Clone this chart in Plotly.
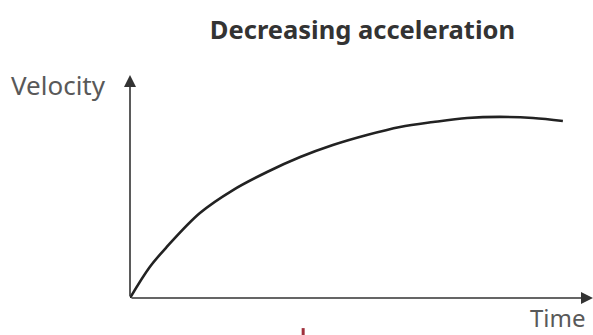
import plotly.graph_objects as go

# Curve (time, velocity in arbitrary units 0-10)
time = [0, 0.43, 0.80, 1.52, 2.24, 2.98, 3.70, 4.41, 5.15, 5.87, 6.59, 7.33, 8.04, 8.76, 9.41]
velocity = [0, 1.39, 2.29, 3.81, 4.84, 5.65, 6.32, 6.86, 7.31, 7.67, 7.89, 8.07, 8.12, 8.07, 7.94]

title_text = "Decreasing acceleration"
x_label = "Time"
y_label = "Velocity"

x_max = 10.065
y_max = 10

fig = go.Figure()

fig.add_trace(go.Scatter(
    x=time, y=velocity, mode="lines",
    line=dict(color="#222222", width=2.6, shape="spline"),
    hoverinfo="skip", showlegend=False,
))

# axes drawn as arrows
axis_col = "#333333"
fig.add_annotation(x=x_max, y=0, ax=0, ay=0, xref="x", yref="y", axref="x", ayref="y",
                   showarrow=True, arrowhead=2, arrowsize=1.5, arrowwidth=1.6,
                   arrowcolor=axis_col, text="")
fig.add_annotation(x=0, y=y_max, ax=0, ay=0, xref="x", yref="y", axref="x", ayref="y",
                   showarrow=True, arrowhead=2, arrowsize=1.5, arrowwidth=1.6,
                   arrowcolor=axis_col, text="")

lab_font = dict(family="Noto Sans", size=26, color="#595959")
fig.add_annotation(x=-0.048, y=0.955, xref="paper", yref="paper", text=y_label,
                   showarrow=False, xanchor="right", yanchor="middle", font=lab_font)
fig.add_annotation(x=0.99, y=-0.088, xref="paper", yref="paper", text=x_label,
                   showarrow=False, xanchor="right", yanchor="middle",
                   font=dict(family="Noto Sans", size=24, color="#595959"))

# small red mark at the bottom edge
fig.add_shape(type="line", x0=0.374, x1=0.374, y0=-0.135, y1=-0.17,
              xref="paper", yref="paper", line=dict(color="#a0303c", width=3))

fig.update_layout(
    width=593, height=335,
    margin=dict(l=130, r=0, t=75, b=37),
    paper_bgcolor="white", plot_bgcolor="white",
    title=dict(text="<b>" + title_text + "</b>", xref="paper", x=0.502, xanchor="center",
               y=0.91, yanchor="middle",
               font=dict(family="Noto Sans", size=25.5, color="#333333")),
    xaxis=dict(range=[0, x_max], visible=False, fixedrange=True),
    yaxis=dict(range=[0, y_max], visible=False, fixedrange=True),
)

# drop the default page margin so the figure fills the window
fig.write_html("out.html", config={"displayModeBar": False},
               post_script="document.body.style.margin='0';document.body.style.overflow='hidden';")
